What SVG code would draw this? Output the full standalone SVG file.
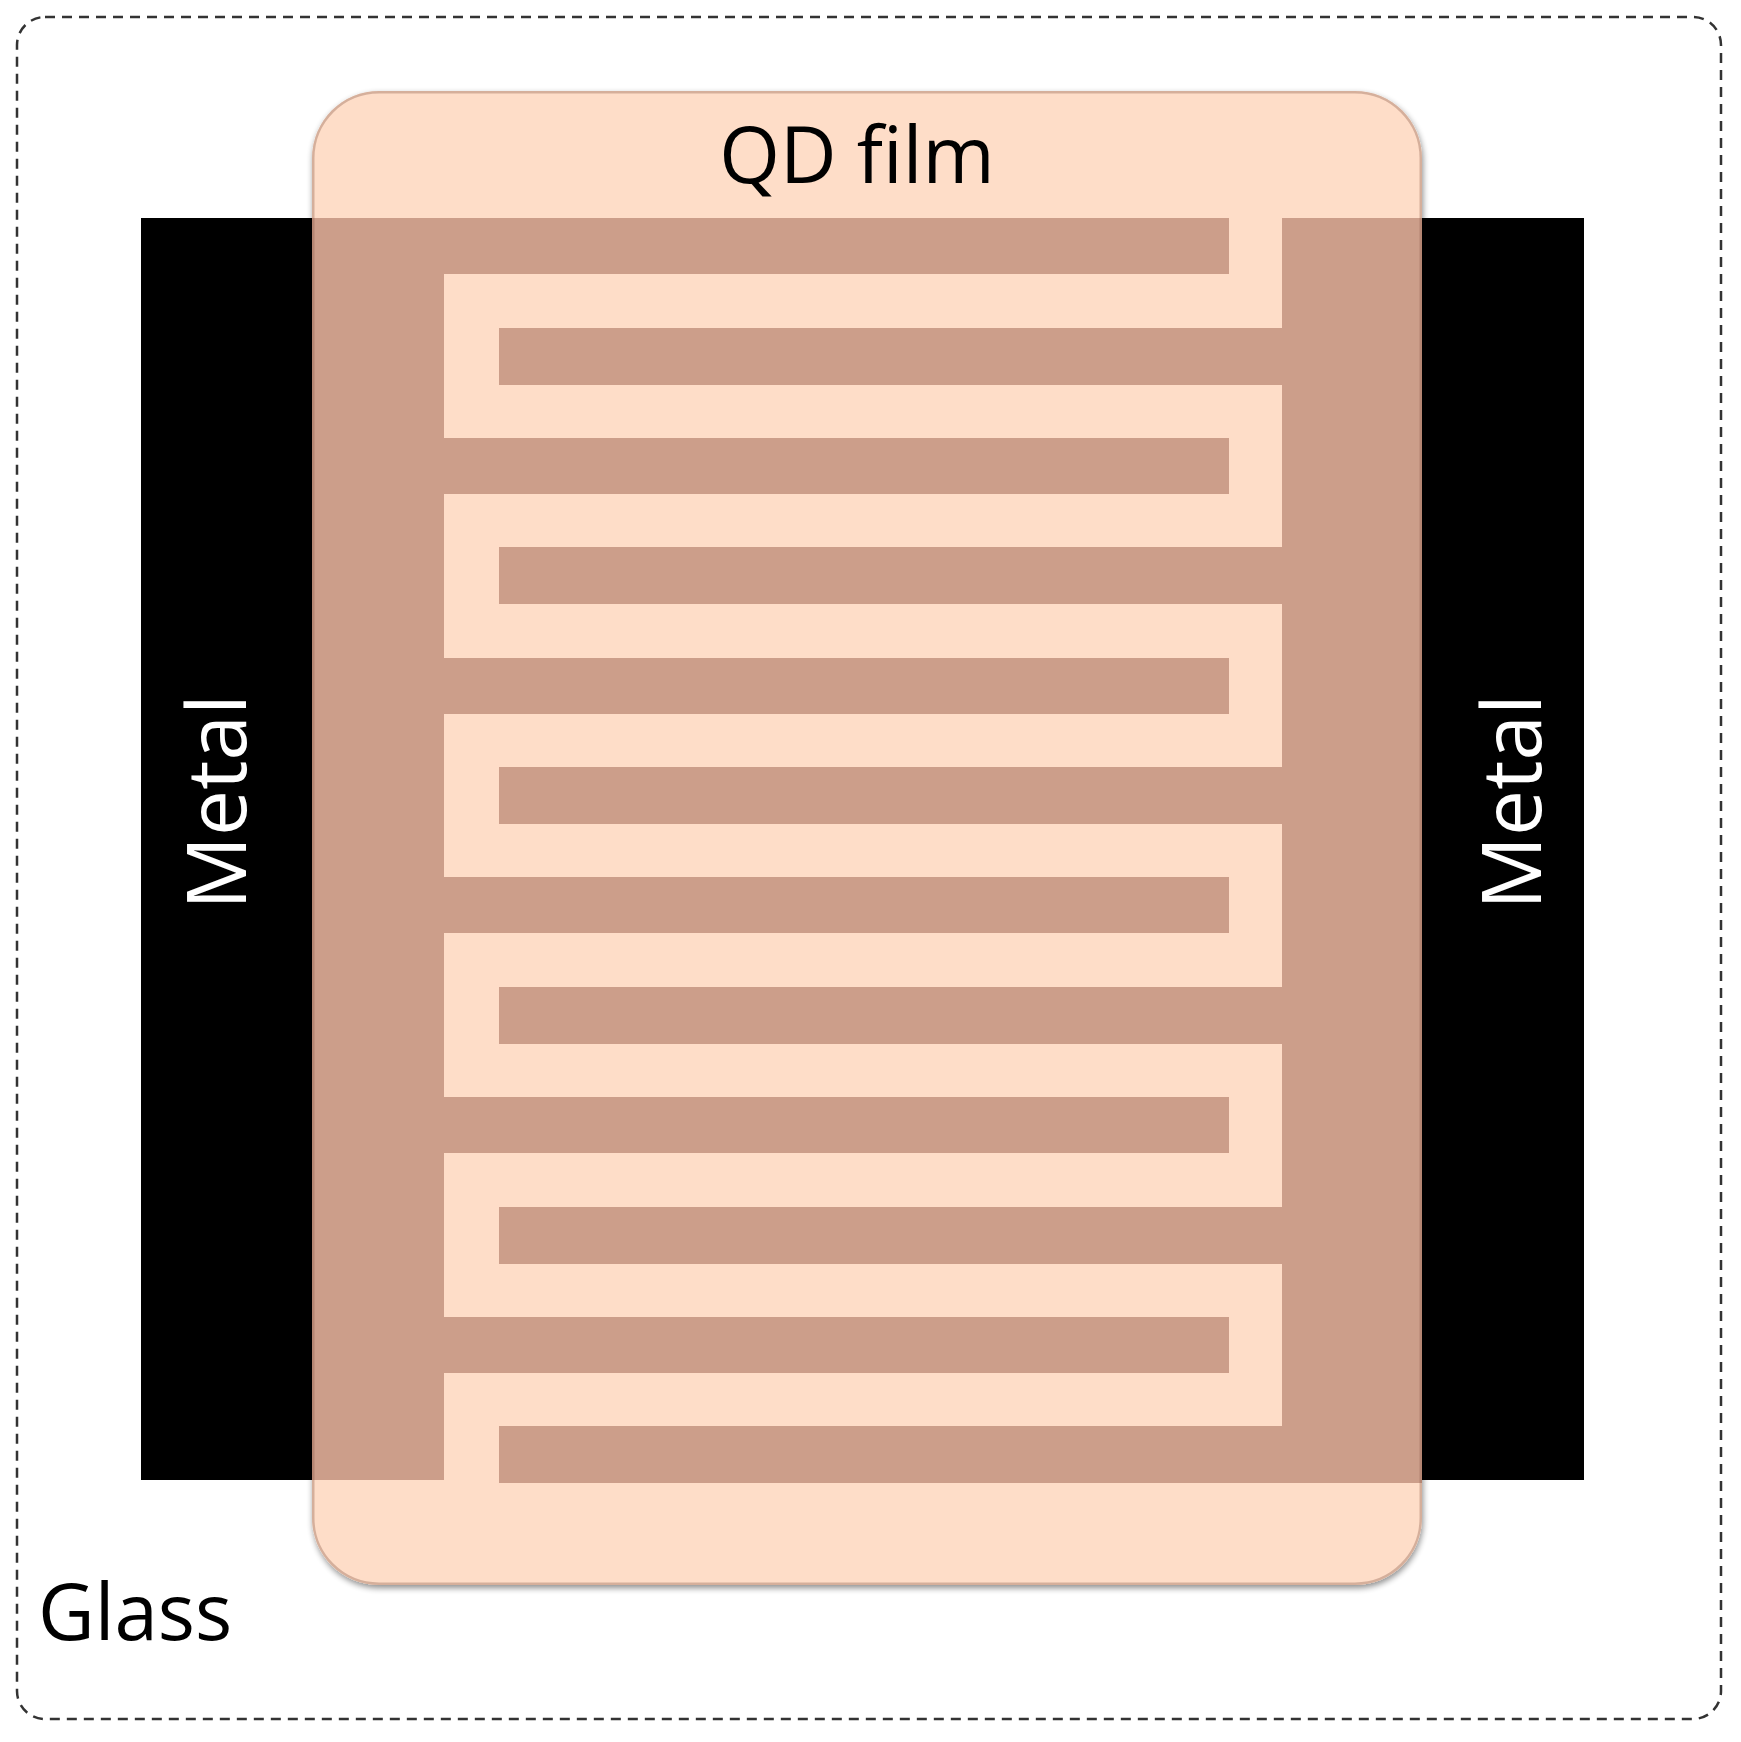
<svg xmlns="http://www.w3.org/2000/svg" width="1741" height="1742" viewBox="0 0 1741 1742">
<style>
.lbl{font-family:"Open Sans","Liberation Sans",sans-serif}
.el{fill:#CC9E8A}
.metal{fill:#000}
</style>
<defs>
<clipPath id="filmclip"><rect x="312" y="91" width="1110" height="1494" rx="67"/></clipPath>
<filter id="sh" x="-5%" y="-5%" width="110%" height="110%"><feGaussianBlur in="SourceAlpha" stdDeviation="3"/><feOffset dx="1" dy="3"/><feComponentTransfer><feFuncA type="linear" slope="0.45"/></feComponentTransfer><feMerge><feMergeNode/><feMergeNode in="SourceGraphic"/></feMerge></filter>
</defs>
<rect width="1741" height="1742" fill="#fff"/>
<g id="glass">
<rect x="17" y="17" width="1704" height="1702" rx="28" fill="none" stroke="#333" stroke-width="2.5" stroke-dasharray="10 7"/>
<text class="lbl" x="38" y="1640" font-size="78" fill="#000">Glass</text>
</g>
<g id="metal-left"><rect class="metal" x="141" y="218" width="200" height="1262"/></g>
<g id="metal-right"><rect class="metal" x="1400" y="218" width="184" height="1262"/></g>
<g id="film">
<rect x="312" y="91" width="1110" height="1494" rx="67" fill="#FEDDC8" filter="url(#sh)"/>
<g clip-path="url(#filmclip)">
<rect class="el" x="300" y="218" width="144" height="1262"/>
<rect class="el" x="1282" y="218" width="150" height="1262"/>
<rect class="el" x="300" y="218" width="929" height="56"/>
<rect class="el" x="300" y="438" width="929" height="56"/>
<rect class="el" x="300" y="658" width="929" height="56"/>
<rect class="el" x="300" y="877" width="929" height="56"/>
<rect class="el" x="300" y="1097" width="929" height="56"/>
<rect class="el" x="300" y="1317" width="929" height="56"/>
<rect class="el" x="499" y="328" width="930" height="57"/>
<rect class="el" x="499" y="547" width="930" height="57"/>
<rect class="el" x="499" y="767" width="930" height="57"/>
<rect class="el" x="499" y="987" width="930" height="57"/>
<rect class="el" x="499" y="1207" width="930" height="57"/>
<rect class="el" x="499" y="1426" width="930" height="57"/>
<rect x="312" y="91" width="1110" height="1494" rx="67" fill="none" stroke="#8a5a48" stroke-opacity="0.35" stroke-width="5"/>
</g>
<text class="lbl" x="857" y="183" font-size="78" text-anchor="middle" fill="#000">QD film</text>
</g>
<g id="labels">
<text class="lbl" transform="translate(246,802) rotate(-90)" font-size="82" text-anchor="middle" fill="#fff">Metal</text>
<text class="lbl" transform="translate(1541,802) rotate(-90)" font-size="82" text-anchor="middle" fill="#fff">Metal</text>
</g>
<g id="connectors"/>
</svg>
